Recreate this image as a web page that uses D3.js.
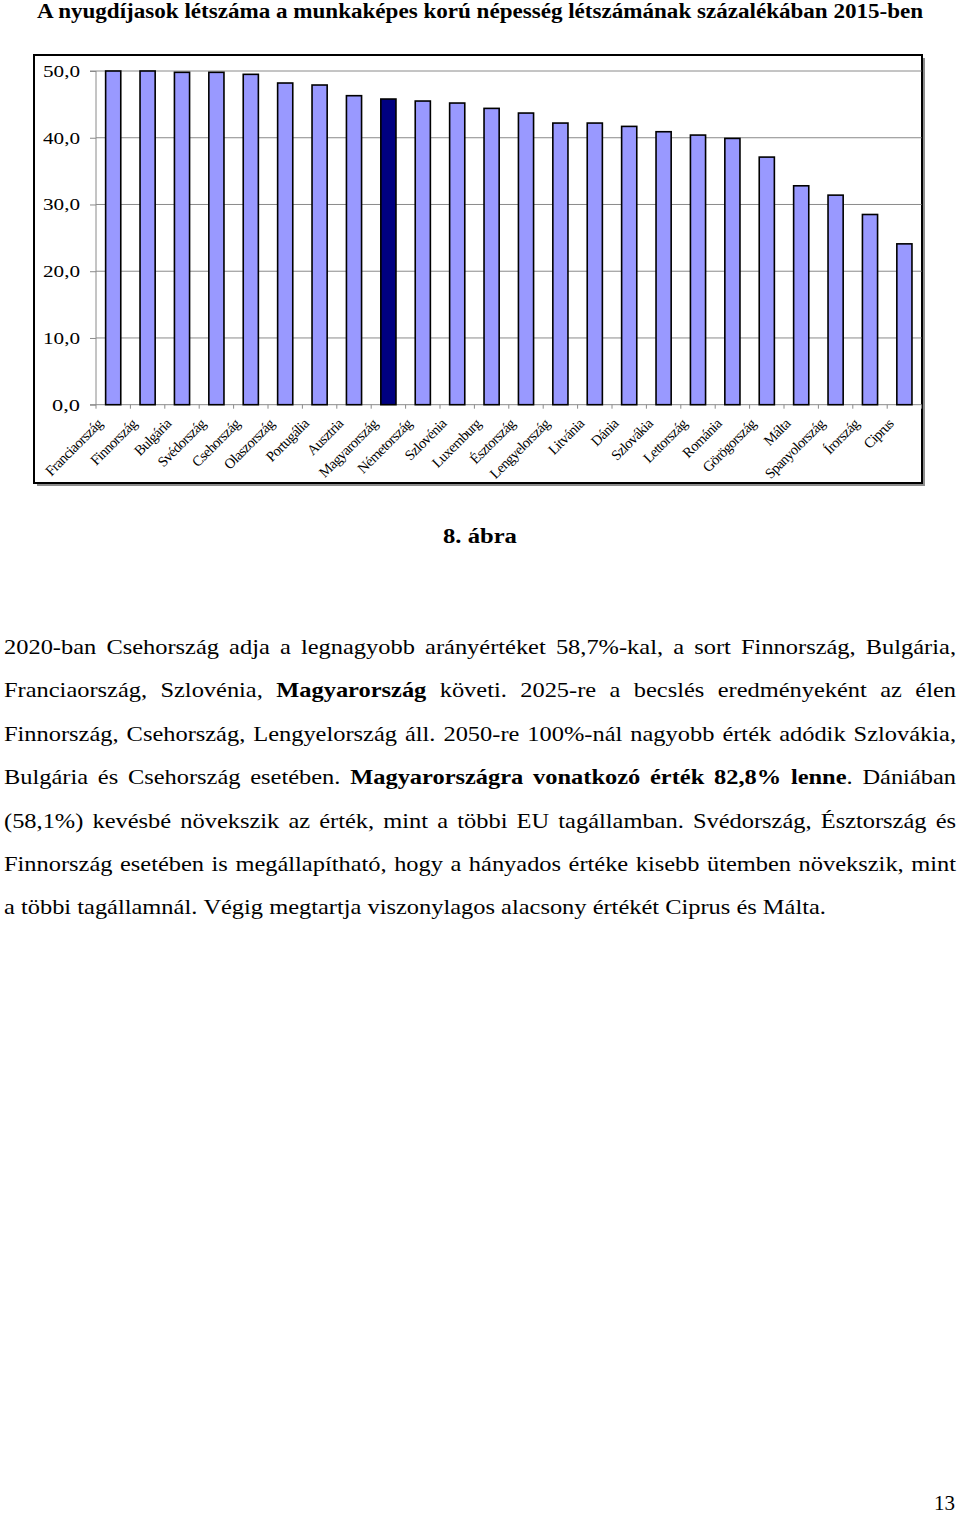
<!DOCTYPE html>
<html>
<head>
<meta charset="utf-8">
<script src="https://cdn.jsdelivr.net/npm/d3@7"></script>
<style>
  html, body { margin: 0; padding: 0; background: #fff; }
  svg { display: block; }
</style>
</head>
<body>
<svg id="page" width="960" height="1525"></svg>
<script>
// ---------- DATA ----------
const categories = ["Franciaország","Finnország","Bulgária","Svédország","Csehország","Olaszország","Portugália","Ausztria","Magyarország","Németország","Szlovénia","Luxemburg","Észtország","Lengyelország","Litvánia","Dánia","Szlovákia","Lettország","Románia","Görögország","Málta","Spanyolország","Írország","Ciprus"];
const values = [50.0, 50.0, 49.8, 49.8, 49.5, 48.2, 47.9, 46.3, 45.8, 45.5, 45.2, 44.4, 43.7, 42.2, 42.2, 41.7, 40.9, 40.4, 39.9, 37.1, 32.8, 31.4, 28.5, 24.1];
const highlighted = ["Magyarország"];
const yTickValues = [0, 10, 20, 30, 40, 50];
const yTickLabels = ["0,0", "10,0", "20,0", "30,0", "40,0", "50,0"];
const titleText = "A nyugdíjasok létszáma a munkaképes korú népesség létszámának százalékában 2015-ben";
const captionText = "8. ábra";
const paragraphLines = [
  [["2020-ban Csehország adja a legnagyobb arányértéket 58,7%-kal, a sort Finnország, Bulgária,", false]],
  [["Franciaország, Szlovénia,", false], ["Magyarország", true], ["követi. 2025-re a becslés eredményeként az élen", false]],
  [["Finnország, Csehország, Lengyelország áll. 2050-re 100%-nál nagyobb érték adódik Szlovákia,", false]],
  [["Bulgária és Csehország esetében.", false], ["Magyarországra vonatkozó érték 82,8% lenne", true], [". Dániában", false, true]],
  [["(58,1%) kevésbé növekszik az érték, mint a többi EU tagállamban. Svédország, Észtország és", false]],
  [["Finnország esetében is megállapítható, hogy a hányados értéke kisebb ütemben növekszik, mint", false]],
  [["a többi tagállamnál. Végig megtartja viszonylagos alacsony értékét Ciprus és Málta.", false]]
];
const pageNumber = "13";

// ---------- HELPERS ----------
const svg = d3.select("#page");
const serif = "'Liberation Serif', 'Times New Roman', serif";

// place a text so its width becomes `w` by horizontal scaling; anchor: "start" | "end" | "middle"
function fitText(parent, str, px, py, w, opts) {
  const t = parent.append("text")
    .attr("font-family", serif)
    .attr("font-size", opts.size)
    .attr("font-weight", opts.bold ? "bold" : "normal")
    .attr("text-anchor", "start")
    .attr("fill", "#000")
    .text(str);
  const nat = t.node().getComputedTextLength();
  const s = w / nat;
  let x0 = px;
  if (opts.anchor === "end") x0 = px - w;
  else if (opts.anchor === "middle") x0 = px - w / 2;
  t.attr("transform", `translate(${x0},${py}) scale(${s},1)`);
  return t;
}

// ---------- TITLE ----------
fitText(svg, titleText, 37, 18, 887, {size: 20, bold: true});

// ---------- CHART FRAME ----------
const frame = {x: 34, y: 55, w: 888, h: 428};
svg.append("rect")
  .attr("x", frame.x + 3).attr("y", frame.y + 3)
  .attr("width", frame.w).attr("height", frame.h)
  .attr("fill", "#8c8c8c");
svg.append("rect")
  .attr("x", frame.x).attr("y", frame.y)
  .attr("width", frame.w).attr("height", frame.h)
  .attr("fill", "#fff").attr("stroke", "#000").attr("stroke-width", 2);

// ---------- SCALES ----------
const plot = {left: 96, right: 921.6, top: 71, bottom: 404.7};
const x = d3.scaleBand().domain(categories).range([plot.left, plot.right])
  .paddingInner(0.56).paddingOuter(0.28);
const y = d3.scaleLinear().domain([0, 50]).range([plot.bottom, plot.top]);

// Gridlines
svg.append("g").selectAll("line").data(yTickValues.filter(v => v > 0)).join("line")
  .attr("x1", plot.left).attr("x2", plot.right)
  .attr("y1", d => y(d)).attr("y2", d => y(d))
  .attr("stroke", "#8a8a8a").attr("stroke-width", 1);

// Y axis
const yAxis = d3.axisLeft(y).tickValues(yTickValues).tickSize(6).tickFormat(() => "");
const gy = svg.append("g").attr("transform", `translate(${plot.left},0)`).call(yAxis);
gy.selectAll("path, line").attr("stroke", "#8a8a8a");
gy.select(".domain").attr("d", `M-6,${plot.top}H0V${plot.bottom}H-6`);
gy.selectAll(".tick").each(function(d) {
  const lbl = yTickLabels[yTickValues.indexOf(d)];
  const w = lbl.length > 3 ? 37 : 28;
  fitText(d3.select(this), lbl, -16, 5.5, w, {size: 16, anchor: "end"});
});

// X axis baseline and ticks between categories
svg.append("line")
  .attr("x1", plot.left).attr("x2", plot.right)
  .attr("y1", y(0)).attr("y2", y(0))
  .attr("stroke", "#8a8a8a");
const step = x.step();
svg.append("g").selectAll("line").data(d3.range(categories.length + 1)).join("line")
  .attr("x1", i => plot.left + i * step).attr("x2", i => plot.left + i * step)
  .attr("y1", y(0)).attr("y2", y(0) + 4)
  .attr("stroke", "#8a8a8a");

// Bars
svg.append("g").selectAll("rect").data(categories).join("rect")
  .attr("x", d => x(d))
  .attr("y", (d, i) => y(values[i]))
  .attr("width", x.bandwidth())
  .attr("height", (d, i) => y(0) - y(values[i]))
  .attr("fill", d => highlighted.includes(d) ? "#000080" : "#9999ff")
  .attr("stroke", "#000").attr("stroke-width", 1.6);

// X labels
svg.append("g").selectAll("text").data(categories).join("text")
  .attr("transform", d => `translate(${x(d) + x.bandwidth() / 2 - 10},${y(0) + 20}) rotate(-45)`)
  .attr("text-anchor", "end")
  .attr("font-family", serif).attr("font-size", 14.5)
  .attr("letter-spacing", -0.6)
  .text(d => d);

// ---------- CAPTION ----------
fitText(svg, captionText, 480, 543, 74, {size: 21, bold: true, anchor: "middle"});

// ---------- JUSTIFIED PARAGRAPH ----------
const para = {left: 4, right: 956, top: 654, lh: 43.4, size: 21, lastWidth: 822};
const probe = svg.append("text").attr("font-family", serif).attr("font-size", para.size)
  .text(paragraphLines[paragraphLines.length - 1].map(s => s[0]).join(" "));
const sx = para.lastWidth / probe.node().getComputedTextLength();
probe.remove();

paragraphLines.forEach((line, li) => {
  const words = [];
  line.forEach(seg => {
    const [txt, bold, attachFirst] = seg;
    txt.split(" ").filter(s => s.length).forEach((w, k) => {
      words.push({w, bold, attach: attachFirst && k === 0});
    });
  });
  const yy = para.top + li * para.lh;
  const g = svg.append("g").attr("transform", `translate(${para.left},${yy}) scale(${sx},1)`);
  const nodes = words.map(o => g.append("text")
    .attr("y", 0)
    .attr("font-family", serif).attr("font-size", para.size)
    .attr("font-weight", o.bold ? "bold" : "normal")
    .text(o.w));
  const widths = nodes.map(n => n.node().getComputedTextLength());
  const total = d3.sum(widths);
  const gaps = words.filter((o, i) => i > 0 && !o.attach).length;
  const isLast = li === paragraphLines.length - 1;
  const avail = (para.right - para.left) / sx;
  const spaceW = para.size * 0.25;
  const gap = isLast ? spaceW : (avail - total) / gaps;
  let cx = 0;
  nodes.forEach((n, i) => {
    if (i > 0 && !words[i].attach) cx += gap;
    n.attr("x", cx);
    cx += widths[i];
  });
});

// ---------- PAGE NUMBER ----------
svg.append("text")
  .attr("x", 955).attr("y", 1510)
  .attr("text-anchor", "end")
  .attr("font-family", serif).attr("font-size", 21)
  .text(pageNumber);
</script>
</body>
</html>
